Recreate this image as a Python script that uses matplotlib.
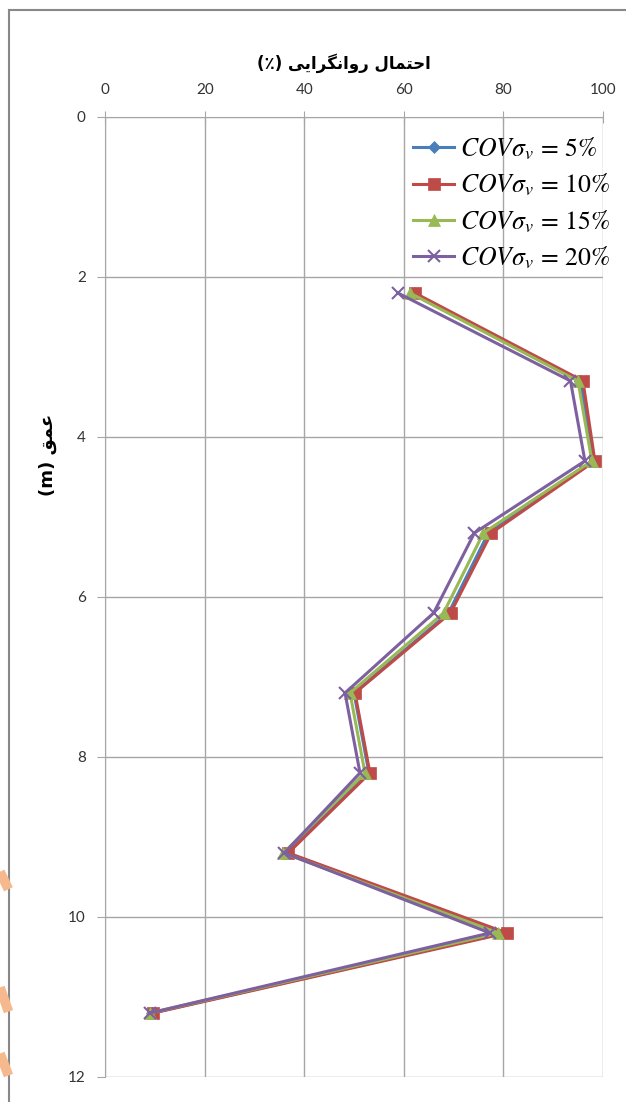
import matplotlib.pyplot as plt
from matplotlib.lines import Line2D

# depth (m) and liquefaction probability (%) per COV of sigma_v
depth = [2.2, 3.3, 4.3, 5.2, 6.2, 7.2, 8.2, 9.2, 10.2, 11.2]
p_05 = [62, 95.5, 98.2, 77, 69, 50, 53, 36.5, 80, 9.5]
p_10 = [62.2, 96, 98.4, 77.6, 69.4, 50.2, 53.2, 36.8, 80.7, 9.7]
p_15 = [61.2, 95, 97.8, 76, 68, 49.2, 52.2, 35.8, 79, 9]
p_20 = [58.8, 93.5, 96.4, 74.2, 66, 48.2, 51.2, 36, 77.3, 9]

labels = [r'$COV\sigma_v\,=\,5\%$', r'$COV\sigma_v\,=\,10\%$',
          r'$COV\sigma_v\,=\,15\%$', r'$COV\sigma_v\,=\,20\%$']
colors = ['#4a7ebb', '#be4b48', '#98b954', '#7d60a0']
markers = ['D', 's', '^', 'x']

# persian text written in visual order with presentation forms
xtitle = '(\u066A) ' + '\uFBFD\uFBFE\uFE8D\uFEAE\uFB95\uFEE7\uFE8D\uFEED\uFEAD' + ' ' + '\uFEDD\uFE8E\uFEE4\uFE98\uFEA3\uFE8D'
ytitle = '(m) ' + '\uFED6\uFEE4\uFECB'

plt.rcParams['font.family'] = ['Lato', 'DejaVu Sans']
plt.rcParams['mathtext.fontset'] = 'stix'

fig = plt.figure(figsize=(6.26, 11.02), dpi=100)
ax = fig.add_axes([0.168, 0.0227, 0.795, 0.8712])

series = [p_05, p_10, p_15, p_20]
msizes = [6, 8, 8, 9]
for vals, lab, c, m, ms in zip(series, labels, colors, markers, msizes):
    ax.plot(vals, depth, color=c, marker=m, markersize=ms, lw=2.2, label=lab,
            markeredgewidth=1.5 if m == 'x' else 0.5, markeredgecolor=c)

ax.set_xlim(0, 100)
ax.set_ylim(12, 0)
ax.set_xticks(range(0, 101, 20))
ax.set_yticks(range(0, 13, 2))
ax.xaxis.tick_top()
ax.xaxis.set_label_position('top')
ax.grid(True, color='#a6a6a6', lw=1)
ax.set_axisbelow(True)
for s in ax.spines.values():
    s.set_color('#a6a6a6')
ax.spines['right'].set_visible(False)
ax.spines['bottom'].set_visible(False)
ax.tick_params(axis='x', direction='inout', length=8, color='#a6a6a6',
               labelsize=11, labelcolor='#333333', pad=10)
ax.tick_params(axis='y', direction='out', length=6, color='#a6a6a6',
               labelsize=11, labelcolor='#333333', pad=8)

ax.set_xlabel(xtitle, fontsize=12, fontweight='bold', family=['DejaVu Sans'], labelpad=12)
ax.xaxis.set_label_coords(0.48, 1.05)
ax.set_ylabel(ytitle, fontsize=13, fontweight='bold', family=['DejaVu Sans'])
ax.yaxis.set_label_coords(-0.096, 0.648)

leg = ax.legend(loc='upper right', bbox_to_anchor=(1.045, 0.997), frameon=False,
                fontsize=18.5, handlelength=1.6, handletextpad=0.2, labelspacing=0.38,
                borderaxespad=0.2)

# outer frame and watermark strokes
fig.add_artist(Line2D([0.0145, 1.0], [0.991, 0.991], color='#888888', lw=1.5))
fig.add_artist(Line2D([0.0145, 0.0145], [0.0, 0.991], color='#888888', lw=1.5))
for y0, y1 in [(0.209, 0.193), (0.104, 0.082), (0.044, 0.024)]:
    fig.add_artist(Line2D([0.0, 0.0135], [y0, y1], color='#f6b98e', lw=7, solid_capstyle='butt'))

fig.savefig('out.png', dpi=100)
